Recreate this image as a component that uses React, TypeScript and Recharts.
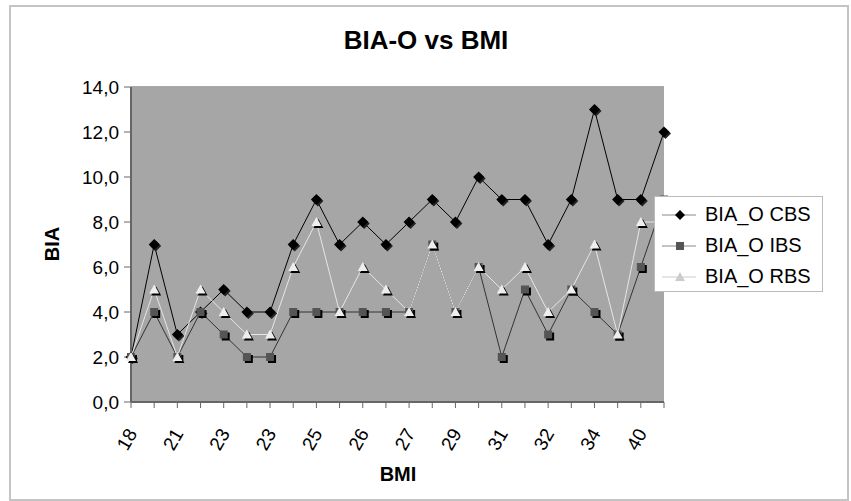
import React from 'react';
import { LineChart, Line, XAxis, YAxis, CartesianGrid, Legend } from 'recharts';

const categories = ['18','20','21','22','23','23','23','24','25','25','26','26','27','28','29','30','31','31','32','33','34','37','40','42'];
const cbs = [2,7,3,4,5,4,4,7,9,7,8,7,8,9,8,10,9,9,7,9,13,9,9,12];
const ibs = [2,4,2,4,3,2,2,4,4,4,4,4,4,7,4,6,2,5,3,5,4,3,6,9];
const rbs = [2,5,2,5,4,3,3,6,8,4,6,5,4,7,4,6,5,6,4,5,7,3,8,8];
const yTicks = [0,2,4,6,8,10,12,14];
const seriesNames = ['BIA_O CBS','BIA_O IBS','BIA_O RBS'];

const data = categories.map((c, i) => ({ bmi: c, cbs: cbs[i], ibs: ibs[i], rbs: rbs[i] }));

const FONT = '"Liberation Sans", Arial, sans-serif';

const Diamond = (props: any) => {
  const { cx, cy } = props;
  if (cx == null || cy == null) return null;
  const r = 5.5;
  return (
    <g>
      <path d={`M${cx+1.5},${cy-r+1.5} L${cx+r+1.5},${cy+1.5} L${cx+1.5},${cy+r+1.5} L${cx-r+1.5},${cy+1.5} Z`} fill="#222" />
      <path d={`M${cx},${cy-r} L${cx+r},${cy} L${cx},${cy+r} L${cx-r},${cy} Z`} fill="#000" />
    </g>
  );
};
const Square = (props: any) => {
  const { cx, cy } = props;
  if (cx == null || cy == null) return null;
  const r = 4;
  return (
    <g>
      <rect x={cx - r + 2} y={cy - r + 2} width={2*r} height={2*r} fill="#000" />
      <rect x={cx - r} y={cy - r} width={2*r} height={2*r} fill="#555" />
    </g>
  );
};
const Triangle = (props: any) => {
  const { cx, cy } = props;
  if (cx == null || cy == null) return null;
  const r = 5;
  return (
    <g>
      <path d={`M${cx+2},${cy-r+2} L${cx+r+2},${cy+r-1+2} L${cx-r+2},${cy+r-1+2} Z`} fill="#000" />
      <path d={`M${cx},${cy-r} L${cx+r},${cy+r-1} L${cx-r},${cy+r-1} Z`} fill="#eeeeee" />
    </g>
  );
};

const XTick = (props: any) => {
  const { x, y, index, payload } = props;
  if (index % 2 !== 0) return null;
  const px = x + 1;
  const py = y + 20;
  return (
    <text x={px} y={py} dy="0.35em" textAnchor="end" transform={`rotate(-60, ${px}, ${py})`}
      fontFamily={FONT} fontSize={19} fill="#000">{payload.value}</text>
  );
};

const LegendBox = () => {
  const markers = [
    <svg width={36} height={14} key="a"><line x1={0} y1={7} x2={34} y2={7} stroke="#888" strokeWidth={1} /><path d="M18,2 L23,7 L18,12 L13,7 Z" fill="#000" /></svg>,
    <svg width={36} height={14} key="b"><line x1={0} y1={7} x2={34} y2={7} stroke="#888" strokeWidth={1} /><rect x={14} y={3} width={8} height={8} fill="#555" /></svg>,
    <svg width={36} height={14} key="c"><line x1={0} y1={7} x2={34} y2={7} stroke="#ccc" strokeWidth={1} /><path d="M18,2 L23,11 L13,11 Z" fill="#ccc" /></svg>,
  ];
  return (
    <div style={{ width: 167, height: 94, background: '#fff', border: '1px solid #bbb', boxSizing: 'content-box' }}>
      {seriesNames.map((n, i) => (
        <div key={n} style={{ display: 'flex', alignItems: 'center', height: 31, paddingLeft: 7, marginTop: i === 0 ? 2 : 0 }}>
          {markers[i]}
          <span style={{ fontFamily: FONT, fontSize: 20, color: '#000', marginLeft: 7, whiteSpace: 'nowrap' }}>{n}</span>
        </div>
      ))}
    </div>
  );
};

export default function App() {
  return (
    <div style={{ position: 'absolute', left: 0, top: 0, width: 851, height: 501, background: '#fff', overflow: 'hidden' }}>
      <div style={{ position: 'absolute', left: 9, top: 5, width: 840, height: 496, border: '2px solid #c4c4c4', boxSizing: 'border-box' }} />
      <div style={{ position: 'absolute', left: 6, top: 25, width: 840, textAlign: 'center', fontFamily: FONT, fontWeight: 'bold', fontSize: 26 }}>BIA-O vs BMI</div>
      <div style={{ position: 'absolute', left: 52, top: 244, transform: 'translate(-50%,-50%) rotate(-90deg)', fontFamily: FONT, fontWeight: 'bold', fontSize: 20 }}>BIA</div>
      <div style={{ position: 'absolute', left: 398, top: 474, transform: 'translate(-50%,-50%)', fontFamily: FONT, fontWeight: 'bold', fontSize: 20 }}>BMI</div>
      <div style={{ position: 'absolute', left: 0, top: 0 }}>
        <LineChart width={851} height={501} data={data} margin={{ top: 87, right: 187, bottom: 0, left: 0 }}>
          <rect x={131} y={87} width={533} height={315} fill="#a6a6a6" />
          <CartesianGrid horizontal vertical={false} stroke="#555" strokeWidth={1} fill="#a6a6a6" />
          <XAxis dataKey="bmi" interval={0} height={99} tick={<XTick />} tickSize={6}
            axisLine={{ stroke: '#666', strokeWidth: 2 }} tickLine={{ stroke: '#666' }} allowDuplicatedCategory />
          <YAxis width={131} domain={[0, 14]} ticks={yTicks} tickSize={7} tickMargin={5}
            tickFormatter={(v: number) => v.toFixed(1).replace('.', ',')}
            tick={{ fontFamily: FONT, fontSize: 19, fill: '#000' }}
            axisLine={{ stroke: '#666', strokeWidth: 2 }} tickLine={{ stroke: '#666' }} />
          <Legend layout="vertical" align="center" verticalAlign="middle" content={<LegendBox />}
            wrapperStyle={{ position: 'absolute', left: 654, top: 196, width: 169, height: 96 }} />
          <Line dataKey="cbs" name={seriesNames[0]} stroke="#000" strokeWidth={1} dot={<Diamond />} activeDot={false} isAnimationActive={false} />
          <Line dataKey="ibs" name={seriesNames[1]} stroke="#333" strokeWidth={1} dot={<Square />} activeDot={false} isAnimationActive={false} />
          <Line dataKey="rbs" name={seriesNames[2]} stroke="#e6e6e6" strokeWidth={1} dot={<Triangle />} activeDot={false} isAnimationActive={false} />
        </LineChart>
      </div>
    </div>
  );
}
